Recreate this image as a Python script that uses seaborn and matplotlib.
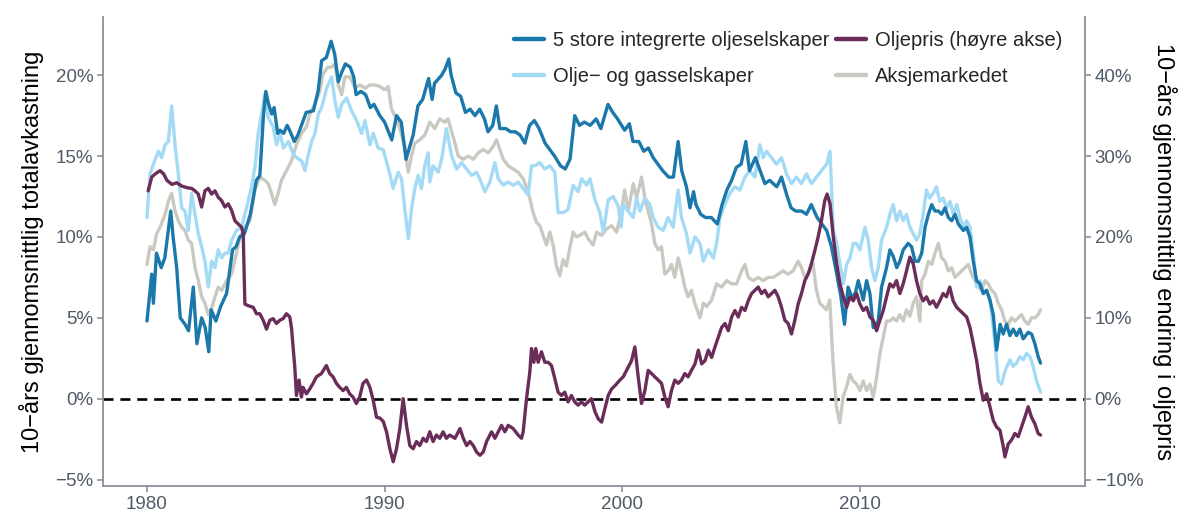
import matplotlib
matplotlib.use("Agg")
import matplotlib.pyplot as plt
import seaborn as sns
import pandas as pd

# ---------------- data ----------------
store5_year = [1980.0, 1980.2, 1980.27, 1980.4, 1980.6, 1980.75, 1981.0, 1981.1, 1981.25, 1981.4, 1981.6, 1981.75,
               1981.95, 1982.1, 1982.3, 1982.45, 1982.6, 1982.7, 1982.9, 1983.1, 1983.35, 1983.6, 1983.75, 1983.9,
               1984.1, 1984.35, 1984.6, 1984.75, 1984.9, 1985.0, 1985.12, 1985.25, 1985.35, 1985.5, 1985.6, 1985.75,
               1985.9, 1986.0, 1986.2, 1986.35, 1986.7, 1987.0, 1987.2, 1987.35, 1987.55, 1987.75, 1987.9, 1988.05,
               1988.2, 1988.35, 1988.55, 1988.7, 1988.8, 1989.0, 1989.2, 1989.4, 1989.55, 1989.8, 1990.0, 1990.3,
               1990.5, 1990.7, 1990.9, 1991.2, 1991.4, 1991.6, 1991.85, 1992.0, 1992.1, 1992.4, 1992.55, 1992.7,
               1992.8, 1993.0, 1993.2, 1993.4, 1993.6, 1993.8, 1994.0, 1994.2, 1994.35, 1994.55, 1994.7, 1994.85,
               1995.1, 1995.3, 1995.5, 1995.7, 1995.9, 1996.1, 1996.3, 1996.5, 1996.75, 1996.95, 1997.15, 1997.4,
               1997.6, 1997.8, 1998.0, 1998.2, 1998.4, 1998.65, 1998.9, 1999.1, 1999.4, 1999.6, 1999.8, 2000.1,
               2000.3, 2000.45, 2000.7, 2000.9, 2001.1, 2001.3, 2001.5, 2001.7, 2001.95, 2002.15, 2002.35, 2002.5,
               2002.7, 2002.85, 2003.0, 2003.1, 2003.3, 2003.5, 2003.75, 2004.0, 2004.2, 2004.4, 2004.6, 2004.8,
               2005.0, 2005.2, 2005.35, 2005.6, 2005.8, 2006.0, 2006.2, 2006.5, 2006.7, 2006.9, 2007.1, 2007.3,
               2007.55, 2007.75, 2007.95, 2008.2, 2008.4, 2008.6, 2008.8, 2009.0, 2009.2, 2009.35, 2009.5, 2009.65,
               2009.8, 2009.93, 2010.14, 2010.28, 2010.42, 2010.56, 2010.77, 2010.91, 2011.12, 2011.26, 2011.4,
               2011.55, 2011.68, 2011.82, 2012.03, 2012.17, 2012.32, 2012.46, 2012.6, 2012.74, 2012.88, 2013.02,
               2013.16, 2013.3, 2013.44, 2013.58, 2013.72, 2013.86, 2014.0, 2014.14, 2014.35, 2014.49, 2014.63,
               2014.77, 2014.91, 2015.05, 2015.19, 2015.33, 2015.47, 2015.61, 2015.75, 2015.9, 2016.03, 2016.17,
               2016.31, 2016.45, 2016.59, 2016.73, 2016.87, 2017.08, 2017.22, 2017.36, 2017.5, 2017.6]
store5_pct = [4.8, 7.7, 5.9, 9.0, 8.1, 8.7, 11.6, 10.0, 8.1, 5.0, 4.6, 4.2,
              6.9, 3.4, 5.0, 4.4, 2.9, 5.5, 4.8, 5.7, 6.5, 9.2, 9.4, 10.0,
              10.2, 11.4, 13.5, 13.8, 17.5, 19.0, 18.2, 17.6, 18.0, 16.4, 16.6, 16.4,
              16.9, 16.6, 15.9, 16.3, 17.7, 17.8, 19.0, 20.9, 21.1, 22.1, 21.3, 19.6,
              20.2, 20.7, 20.5, 19.9, 18.8, 19.0, 18.8, 18.0, 18.2, 17.5, 17.1, 16.0,
              17.5, 17.1, 14.8, 16.3, 18.1, 18.5, 19.8, 18.5, 19.5, 20.0, 20.4, 21.0,
              20.0, 18.9, 18.7, 17.7, 17.9, 17.5, 17.9, 17.3, 16.5, 16.9, 18.1, 16.7,
              16.7, 16.5, 16.5, 16.3, 15.8, 16.9, 17.2, 16.7, 15.8, 15.4, 15.0, 14.4,
              14.2, 14.8, 17.5, 16.9, 17.1, 16.9, 17.3, 16.7, 18.2, 17.7, 17.3, 16.6,
              17.0, 15.9, 15.9, 15.3, 15.5, 14.9, 14.5, 14.1, 13.7, 13.7, 15.9, 14.1,
              13.1, 11.8, 12.8, 12.0, 11.4, 11.2, 11.2, 10.8, 12.0, 12.9, 13.5, 14.3,
              14.5, 15.9, 14.1, 14.9, 14.1, 13.3, 13.5, 13.1, 13.7, 12.7, 11.8, 11.6,
              11.6, 11.4, 12.0, 11.2, 10.8, 10.4, 9.4, 7.9, 6.3, 4.6, 6.9, 6.3,
              6.5, 7.3, 6.1, 7.3, 6.5, 4.4, 4.8, 6.9, 8.1, 9.2, 8.8,
              8.1, 8.5, 9.2, 9.6, 9.4, 8.5, 8.5, 9.0, 10.6, 11.4, 12.0,
              11.6, 11.6, 11.4, 11.8, 11.2, 11.0, 11.4, 10.8, 10.4, 10.6, 10.0,
              8.5, 7.3, 7.1, 6.5, 6.7, 6.1, 5.2, 3.0, 4.6, 4.0, 4.6,
              3.9, 4.3, 3.9, 4.3, 3.7, 4.1, 4.0, 3.4, 2.6, 2.2]

olje_year = [1980.0, 1980.13, 1980.27, 1980.48, 1980.62, 1980.76, 1980.9, 1981.04, 1981.18, 1981.32, 1981.46, 1981.6,
             1981.74, 1981.88, 1982.02, 1982.16, 1982.3, 1982.44, 1982.58, 1982.72, 1982.86, 1983.0, 1983.14, 1983.28,
             1983.42, 1983.56, 1983.77, 1983.98, 1984.19, 1984.4, 1984.54, 1984.68, 1984.82, 1984.96, 1985.1, 1985.31,
             1985.45, 1985.6, 1985.74, 1985.95, 1986.16, 1986.3, 1986.51, 1986.65, 1986.79, 1986.93, 1987.07, 1987.21,
             1987.35, 1987.56, 1987.77, 1987.91, 1988.05, 1988.19, 1988.4, 1988.61, 1988.82, 1989.03, 1989.17, 1989.38,
             1989.52, 1989.73, 1989.94, 1990.2, 1990.36, 1990.57, 1990.71, 1990.85, 1991.0, 1991.13, 1991.27, 1991.41,
             1991.55, 1991.69, 1991.83, 1991.9, 1992.04, 1992.25, 1992.4, 1992.6, 1992.82, 1993.03, 1993.24, 1993.45,
             1993.66, 1993.87, 1994.0, 1994.22, 1994.43, 1994.64, 1994.78, 1994.99, 1995.2, 1995.41, 1995.62, 1995.83,
             1996.04, 1996.18, 1996.32, 1996.53, 1996.74, 1996.95, 1997.16, 1997.3, 1997.51, 1997.72, 1997.93, 1998.14,
             1998.29, 1998.5, 1998.64, 1998.85, 1999.06, 1999.2, 1999.41, 1999.62, 1999.83, 1999.95, 2000.04, 2000.25,
             2000.46, 2000.6, 2000.74, 2000.95, 2001.16, 2001.3, 2001.51, 2001.72, 2001.93, 2002.14, 2002.35, 2002.49,
             2002.7, 2002.85, 2003.06, 2003.27, 2003.41, 2003.62, 2003.83, 2003.97, 2004.11, 2004.32, 2004.53, 2004.74,
             2004.95, 2005.16, 2005.37, 2005.58, 2005.79, 2005.93, 2006.07, 2006.28, 2006.49, 2006.7, 2006.91, 2007.12,
             2007.33, 2007.54, 2007.75, 2007.96, 2008.17, 2008.38, 2008.6, 2008.74, 2008.88, 2009.02, 2009.16, 2009.3,
             2009.44, 2009.58, 2009.72, 2009.86, 2010.0, 2010.21, 2010.35, 2010.49, 2010.63, 2010.77, 2010.91, 2011.12,
             2011.26, 2011.4, 2011.54, 2011.68, 2011.82, 2011.96, 2012.1, 2012.24, 2012.38, 2012.52, 2012.66, 2012.8,
             2012.94, 2013.08, 2013.22, 2013.36, 2013.5, 2013.65, 2013.79, 2013.93, 2014.07, 2014.21, 2014.35, 2014.49,
             2014.63, 2014.77, 2014.91, 2015.05, 2015.19, 2015.33, 2015.47, 2015.61, 2015.75, 2015.82, 2015.96, 2016.1,
             2016.31, 2016.45, 2016.59, 2016.73, 2016.87, 2017.01, 2017.15, 2017.29, 2017.43, 2017.6]
olje_pct = [11.2, 13.9, 14.5, 15.3, 14.9, 15.7, 15.9, 18.1, 15.7, 13.9, 11.8, 11.6,
            10.4, 12.7, 11.4, 10.2, 9.4, 8.5, 6.9, 8.5, 8.1, 9.2, 8.7, 9.0,
            9.0, 9.8, 10.4, 10.6, 11.8, 13.1, 14.3, 16.4, 17.6, 18.8, 17.4, 16.8,
            15.7, 16.4, 15.5, 15.9, 15.1, 14.9, 14.7, 14.1, 15.1, 15.9, 16.4, 17.6,
            18.0, 19.2, 19.9, 18.4, 17.4, 18.2, 18.6, 17.8, 17.2, 16.4, 17.2, 15.7,
            16.4, 15.5, 15.4, 14.0, 13.0, 14.0, 13.6, 11.7, 9.9, 11.7, 13.0, 13.8,
            13.0, 14.4, 15.2, 13.4, 14.4, 14.0, 14.8, 16.7, 15.0, 14.2, 14.6, 14.2,
            13.8, 14.0, 13.6, 12.8, 13.4, 14.6, 13.6, 13.2, 13.4, 13.2, 13.4, 13.0,
            12.6, 14.4, 14.4, 14.6, 14.2, 14.4, 14.0, 11.5, 11.5, 11.7, 13.2, 12.8,
            13.6, 13.2, 13.6, 12.3, 11.5, 10.3, 12.3, 12.5, 11.9, 10.6, 12.0, 11.6,
            11.2, 12.4, 11.6, 12.4, 12.0, 11.2, 10.6, 10.4, 11.2, 10.6, 12.9, 11.2,
            10.2, 9.0, 10.0, 9.6, 8.5, 9.2, 8.7, 9.6, 11.2, 12.0, 12.7, 13.1,
            12.9, 13.7, 14.1, 13.7, 15.7, 14.9, 15.3, 14.9, 14.5, 14.9, 13.9, 13.3,
            13.7, 13.3, 13.9, 13.3, 13.7, 14.1, 14.5, 15.3, 10.4, 9.6, 8.3, 7.1,
            8.3, 8.7, 9.6, 9.6, 9.2, 10.6, 9.8, 8.1, 7.3, 8.1, 9.8, 10.6,
            11.4, 12.0, 11.0, 11.6, 11.0, 11.4, 10.6, 10.2, 9.8, 10.2, 11.4, 12.9,
            12.4, 12.7, 13.1, 12.2, 12.4, 11.8, 12.2, 11.4, 12.0, 11.2, 10.6, 11.0,
            10.6, 9.0, 6.9, 7.3, 6.5, 6.7, 6.1, 4.4, 2.4, 1.1, 0.9, 1.7,
            2.4, 2.0, 2.2, 2.6, 2.4, 2.8, 2.6, 2.0, 1.1, 0.4]

aksje_year = [1980.0, 1980.13, 1980.27, 1980.41, 1980.55, 1980.76, 1980.9, 1981.04, 1981.18, 1981.32, 1981.46, 1981.6,
              1981.74, 1981.88, 1982.02, 1982.16, 1982.3, 1982.44, 1982.58, 1982.72, 1982.86, 1983.0, 1983.14, 1983.35,
              1983.56, 1983.77, 1983.91, 1984.12, 1984.33, 1984.54, 1984.75, 1984.96, 1985.1, 1985.24, 1985.38, 1985.52,
              1985.66, 1985.87, 1986.08, 1986.29, 1986.5, 1986.71, 1986.85, 1987.06, 1987.27, 1987.41, 1987.62, 1987.76,
              1987.91, 1988.05, 1988.19, 1988.33, 1988.54, 1988.75, 1988.96, 1989.17, 1989.38, 1989.59, 1989.8, 1990.01,
              1990.15, 1990.29, 1990.5, 1990.64, 1990.85, 1990.99, 1991.13, 1991.27, 1991.48, 1991.69, 1991.9, 1992.11,
              1992.32, 1992.53, 1992.67, 1992.82, 1992.96, 1993.1, 1993.31, 1993.52, 1993.73, 1993.94, 1994.15, 1994.36,
              1994.57, 1994.71, 1994.85, 1994.99, 1995.2, 1995.41, 1995.62, 1995.83, 1996.04, 1996.25, 1996.39, 1996.53,
              1996.67, 1996.81, 1996.95, 1997.09, 1997.23, 1997.37, 1997.51, 1997.65, 1997.79, 1997.93, 1998.07, 1998.21,
              1998.42, 1998.56, 1998.77, 1998.92, 1999.13, 1999.34, 1999.55, 1999.76, 1999.97, 2000.1, 2000.25, 2000.46,
              2000.6, 2000.81, 2000.95, 2001.09, 2001.23, 2001.37, 2001.51, 2001.65, 2001.79, 2001.93, 2002.07, 2002.21,
              2002.35, 2002.49, 2002.63, 2002.77, 2002.91, 2003.05, 2003.27, 2003.41, 2003.55, 2003.76, 2003.97, 2004.18,
              2004.39, 2004.6, 2004.81, 2005.02, 2005.16, 2005.3, 2005.51, 2005.72, 2005.93, 2006.14, 2006.35, 2006.56,
              2006.77, 2006.98, 2007.19, 2007.4, 2007.54, 2007.68, 2007.89, 2008.03, 2008.17, 2008.31, 2008.45, 2008.59,
              2008.73, 2008.87, 2009.01, 2009.15, 2009.29, 2009.43, 2009.58, 2009.72, 2009.86, 2010.0, 2010.14, 2010.28,
              2010.42, 2010.56, 2010.7, 2010.84, 2010.98, 2011.12, 2011.26, 2011.4, 2011.54, 2011.68, 2011.82, 2011.96,
              2012.1, 2012.24, 2012.38, 2012.52, 2012.6, 2012.74, 2012.88, 2013.02, 2013.16, 2013.3, 2013.44, 2013.58,
              2013.72, 2013.86, 2014.0, 2014.14, 2014.28, 2014.42, 2014.56, 2014.7, 2014.84, 2014.98, 2015.12, 2015.26,
              2015.4, 2015.54, 2015.68, 2015.82, 2015.96, 2016.1, 2016.24, 2016.38, 2016.52, 2016.66, 2016.8, 2016.94,
              2017.08, 2017.22, 2017.36, 2017.5, 2017.6]
aksje_pct = [8.3, 9.4, 9.2, 10.2, 10.6, 11.4, 12.2, 12.7, 11.6, 11.0, 10.6, 10.4,
             9.8, 9.6, 8.1, 7.3, 6.3, 5.9, 5.2, 5.6, 6.3, 6.9, 6.7, 7.3,
             7.7, 9.0, 10.0, 10.6, 11.0, 12.9, 13.7, 13.5, 13.3, 12.7, 12.0, 12.7,
             13.5, 14.1, 14.7, 15.7, 16.4, 16.8, 17.6, 18.2, 19.0, 20.1, 20.5, 20.5,
             20.7, 19.4, 18.8, 19.9, 19.9, 19.2, 19.4, 19.2, 19.4, 19.4, 19.3, 19.1,
             19.3, 17.9, 17.3, 16.7, 15.6, 14.0, 15.0, 15.8, 16.0, 16.3, 17.1, 16.7,
             17.3, 17.1, 17.3, 16.5, 15.8, 15.0, 14.8, 15.0, 14.8, 15.2, 15.4, 15.2,
             15.6, 16.0, 15.4, 14.8, 14.4, 14.2, 14.0, 13.6, 12.8, 11.5, 10.9, 10.7,
             10.1, 9.5, 10.3, 9.5, 8.2, 7.6, 8.6, 8.2, 9.3, 10.3, 10.0, 10.1,
             10.3, 9.9, 9.5, 10.3, 10.1, 10.5, 10.7, 10.3, 11.6, 12.9, 11.6, 13.3,
             12.4, 13.7, 12.4, 11.6, 10.8, 9.6, 9.2, 9.4, 7.7, 7.9, 8.3, 7.5,
             8.7, 7.9, 6.9, 6.3, 6.7, 5.9, 5.0, 5.9, 5.7, 6.1, 7.1, 6.9,
             7.3, 7.1, 7.1, 7.9, 8.3, 7.5, 7.3, 7.5, 7.3, 7.5, 7.5, 7.7,
             7.9, 7.7, 7.9, 8.5, 8.1, 7.5, 7.9, 8.3, 6.7, 5.9, 5.7, 5.5,
             6.1, 2.2, -0.5, -1.5, 0.1, 0.7, 1.5, 1.1, 0.9, 0.5, 1.1, 0.5,
             0.9, 0.1, 1.3, 2.8, 3.8, 4.8, 4.8, 5.0, 4.8, 5.2, 4.8, 5.5,
             5.1, 5.9, 6.3, 4.8, 7.3, 7.7, 8.5, 8.3, 9.0, 9.6, 8.7, 8.5,
             7.9, 8.1, 7.5, 7.7, 7.9, 8.1, 8.3, 7.7, 7.3, 6.9, 6.7, 7.3,
             7.1, 6.7, 6.5, 5.9, 5.5, 4.8, 4.6, 5.0, 4.8, 5.0, 5.2, 4.8,
             4.6, 5.0, 5.0, 5.2, 5.5]

oil_year = [1980.05, 1980.2, 1980.35, 1980.55, 1980.7, 1980.84, 1981.05, 1981.25, 1981.46, 1981.67, 1981.88, 1982.02,
            1982.16, 1982.3, 1982.44, 1982.58, 1982.72, 1982.86, 1983.0, 1983.14, 1983.28, 1983.42, 1983.56, 1983.7,
            1983.84, 1983.98, 1984.05, 1984.12, 1984.26, 1984.47, 1984.61, 1984.75, 1984.89, 1985.03, 1985.17, 1985.31,
            1985.45, 1985.59, 1985.73, 1985.87, 1986.01, 1986.08, 1986.22, 1986.29, 1986.4, 1986.5, 1986.57, 1986.71,
            1986.85, 1986.99, 1987.13, 1987.34, 1987.55, 1987.69, 1987.83, 1987.97, 1988.11, 1988.25, 1988.39, 1988.53,
            1988.67, 1988.81, 1988.95, 1989.09, 1989.24, 1989.38, 1989.52, 1989.66, 1989.8, 1989.94, 1990.08, 1990.22,
            1990.36, 1990.5, 1990.64, 1990.78, 1990.92, 1991.06, 1991.2, 1991.34, 1991.48, 1991.62, 1991.76, 1991.9,
            1992.04, 1992.18, 1992.32, 1992.46, 1992.6, 1992.74, 1992.96, 1993.17, 1993.31, 1993.45, 1993.59, 1993.73,
            1993.87, 1994.01, 1994.15, 1994.29, 1994.5, 1994.64, 1994.78, 1994.92, 1995.06, 1995.2, 1995.41, 1995.62,
            1995.76, 1995.83, 1995.97, 1996.11, 1996.18, 1996.28, 1996.36, 1996.46, 1996.6, 1996.74, 1996.88, 1997.02,
            1997.16, 1997.3, 1997.44, 1997.58, 1997.72, 1997.86, 1998.0, 1998.14, 1998.28, 1998.42, 1998.56, 1998.7,
            1998.85, 1998.99, 1999.13, 1999.27, 1999.41, 1999.55, 1999.69, 1999.9, 2000.04, 2000.18, 2000.39, 2000.53,
            2000.67, 2000.81, 2000.95, 2001.09, 2001.23, 2001.37, 2001.51, 2001.65, 2001.79, 2001.93, 2002.07, 2002.21,
            2002.35, 2002.49, 2002.63, 2002.77, 2002.91, 2003.06, 2003.2, 2003.34, 2003.48, 2003.62, 2003.76, 2003.9,
            2004.04, 2004.18, 2004.32, 2004.46, 2004.6, 2004.74, 2004.88, 2005.02, 2005.16, 2005.3, 2005.44, 2005.58,
            2005.72, 2005.86, 2006.0, 2006.14, 2006.28, 2006.42, 2006.56, 2006.7, 2006.84, 2006.98, 2007.12, 2007.26,
            2007.4, 2007.54, 2007.68, 2007.82, 2007.96, 2008.1, 2008.24, 2008.38, 2008.52, 2008.62, 2008.74, 2008.88,
            2009.02, 2009.16, 2009.3, 2009.44, 2009.58, 2009.72, 2009.86, 2010.0, 2010.14, 2010.28, 2010.42, 2010.56,
            2010.7, 2010.84, 2010.98, 2011.12, 2011.26, 2011.4, 2011.54, 2011.68, 2011.82, 2011.96, 2012.1, 2012.24,
            2012.38, 2012.52, 2012.66, 2012.8, 2012.94, 2013.08, 2013.22, 2013.36, 2013.5, 2013.64, 2013.78, 2013.92,
            2014.07, 2014.21, 2014.35, 2014.49, 2014.63, 2014.77, 2014.91, 2015.05, 2015.19, 2015.33, 2015.47, 2015.61,
            2015.75, 2015.89, 2016.03, 2016.1, 2016.24, 2016.38, 2016.52, 2016.66, 2016.8, 2016.94, 2017.08, 2017.22,
            2017.36, 2017.5, 2017.6]
oil_pct = [25.7, 27.4, 27.8, 28.2, 27.8, 27.0, 26.5, 26.7, 26.3, 26.1, 26.0, 25.7,
           25.3, 23.7, 25.7, 26.0, 25.3, 25.7, 24.9, 24.5, 23.7, 24.1, 23.3, 22.0,
           21.6, 21.2, 20.4, 11.7, 11.5, 11.3, 10.5, 10.5, 9.7, 8.6, 9.7, 9.9,
           9.3, 9.7, 9.9, 10.5, 10.1, 8.8, 3.9, 0.4, 2.3, 0.2, 1.4, 0.6,
           1.2, 1.9, 2.7, 3.1, 4.1, 3.1, 2.7, 1.9, 1.4, 1.0, 1.4, 0.6,
           0.2, -0.6, 0.2, 1.9, 2.3, 1.4, -0.2, -2.3, -2.4, -2.8, -4.1, -6.2,
           -7.8, -6.2, -3.7, 0.0, -3.3, -5.8, -6.2, -5.3, -5.8, -4.9, -5.3, -4.1,
           -5.3, -4.5, -4.9, -4.1, -4.9, -4.5, -4.9, -3.7, -4.9, -5.8, -5.3, -5.8,
           -6.6, -7.0, -6.6, -5.3, -4.1, -4.9, -4.1, -3.3, -4.1, -3.3, -3.7, -4.5,
           -4.9, -4.1, 0.0, 3.3, 6.2, 4.5, 6.2, 4.5, 5.8, 4.5, 4.5, 4.1,
           2.5, 0.8, 0.4, 0.8, -0.4, 0.4, -0.4, -0.8, -0.4, -0.8, -0.4, 0.0,
           -1.6, -2.5, -2.9, -1.2, 0.4, 1.2, 1.6, 2.3, 2.7, 3.5, 4.7, 6.4,
           2.7, -0.6, 1.0, 3.5, 3.1, 2.7, 2.3, 1.9, 0.2, -1.0, 1.0, 2.3,
           1.9, 2.3, 3.1, 2.7, 3.5, 4.3, 6.0, 4.3, 4.7, 6.0, 5.1, 6.4,
           7.6, 8.8, 9.3, 8.4, 10.1, 10.9, 10.1, 11.3, 10.9, 12.1, 13.0, 13.4,
           13.8, 13.0, 13.4, 12.6, 13.0, 13.4, 12.6, 11.3, 9.7, 9.3, 8.0, 9.7,
           11.7, 13.0, 14.6, 15.4, 16.7, 18.3, 20.0, 22.0, 24.5, 25.3, 24.1, 20.0,
           16.7, 14.2, 12.6, 11.3, 12.6, 12.1, 13.0, 11.7, 10.9, 11.3, 10.1, 9.7,
           8.4, 9.7, 10.9, 12.6, 14.2, 13.8, 14.6, 13.0, 14.2, 15.8, 17.5, 16.7,
           14.6, 13.0, 12.1, 12.6, 11.7, 12.1, 11.3, 12.1, 13.0, 12.6, 13.8, 12.1,
           11.3, 10.9, 10.5, 10.1, 8.8, 6.8, 4.7, 1.9, -0.2, 0.6, -1.0, -2.7,
           -3.5, -3.9, -5.9, -7.2, -5.6, -5.1, -4.3, -4.7, -3.5, -2.3, -1.0, -2.3,
           -3.1, -4.3, -4.5]

series_names = ["5 store integrerte oljeselskaper", "Olje\u2212 og gasselskaper",
                "Oljepris (h\u00f8yre akse)", "Aksjemarkedet"]
x_ticks = [1980, 1990, 2000, 2010]
left_ticks = [-5, 0, 5, 10, 15, 20]
left_tick_labels = ["\u22125%", "0%", "5%", "10%", "15%", "20%"]
right_ticks = [-10, 0, 10, 20, 30, 40]
right_tick_labels = ["\u221210%", "0%", "10%", "20%", "30%", "40%"]
left_title = "10\u2212\u00e5rs gjennomsnittlig totalavkastning"
right_title = "10\u2212\u00e5rs gjennomsnittlig endring i oljepris"

# ---------------- style ----------------
sns.set_theme(style="white")
plt.rcParams["font.family"] = ["Liberation Sans", "DejaVu Sans"]

C_DARK = "#1a78aa"
C_LIGHT = "#a3daf5"
C_OIL = "#6a2c58"
C_GRAY = "#c9c9c1"
SPINE = "#8c9099"
TICKLAB = "#4f5a68"
LW = 2.4

fig = plt.figure(figsize=(11.81, 5.15), dpi=100)
ax = fig.add_axes([103 / 1181, 1 - 486 / 515, 982 / 1181, (486 - 17) / 515])

df_aksje = pd.DataFrame({"year": aksje_year, "pct": aksje_pct})
df_olje = pd.DataFrame({"year": olje_year, "pct": olje_pct})
df_store = pd.DataFrame({"year": store5_year, "pct": store5_pct})
df_oil = pd.DataFrame({"year": oil_year, "pct": oil_pct})

sns.lineplot(data=df_aksje, x="year", y="pct", ax=ax, color=C_GRAY, lw=LW, sort=False, estimator=None)
sns.lineplot(data=df_olje, x="year", y="pct", ax=ax, color=C_LIGHT, lw=LW, sort=False, estimator=None)
sns.lineplot(data=df_store, x="year", y="pct", ax=ax, color=C_DARK, lw=LW, sort=False, estimator=None)
ax.axhline(0, color="black", lw=1.9, ls=(0, (3.8, 2.6)), zorder=1)

ax2 = ax.twinx()
sns.lineplot(data=df_oil, x="year", y="pct", ax=ax2, color=C_OIL, lw=LW, sort=False, estimator=None)

left_lim = (-5.4, 23.6)
ax.set_ylim(*left_lim)
ax2.set_ylim(left_lim[0] * 2, left_lim[1] * 2)
ax.set_xlim(1978.15, 2019.47)

ax.set_xticks(x_ticks)
ax.set_xticklabels([str(v) for v in x_ticks])
ax.set_yticks(left_ticks)
ax.set_yticklabels(left_tick_labels)
ax2.set_yticks(right_ticks)
ax2.set_yticklabels(right_tick_labels)

for a in (ax, ax2):
    a.set_xlabel("")
    a.spines["top"].set_visible(False)
    for s in ("left", "bottom", "right"):
        a.spines[s].set_color(SPINE)
        a.spines[s].set_linewidth(1.3)
ax.spines["right"].set_visible(False)
ax2.spines["left"].set_visible(False)
ax2.spines["bottom"].set_visible(False)

ax.tick_params(axis="both", which="both", direction="out", length=4, width=1.2, color=SPINE,
               labelcolor=TICKLAB, labelsize=13.5, pad=3, left=True, bottom=True)
ax2.tick_params(axis="y", direction="out", length=4, width=1.2, color=SPINE,
                labelcolor=TICKLAB, labelsize=13.5, pad=3, right=True)

ax.set_ylabel(left_title, fontsize=17, color="black", labelpad=8)
ax2.set_ylabel(right_title, fontsize=17, color="black", rotation=-90, labelpad=24)

# legend
h_store = plt.Line2D([], [], color=C_DARK, lw=3.2)
h_olje = plt.Line2D([], [], color=C_LIGHT, lw=3.2)
h_oil = plt.Line2D([], [], color=C_OIL, lw=3.2)
h_aksje = plt.Line2D([], [], color=C_GRAY, lw=3.2)
fig.legend([h_store, h_olje, h_oil, h_aksje], series_names, ncol=2, frameon=False,
           loc="upper left", bbox_to_anchor=(514 / 1181, 1 - 31 / 515), fontsize=14.5,
           handlelength=1.5, handletextpad=0.45, columnspacing=0.3, labelspacing=0.85,
           borderaxespad=0, borderpad=0)

fig.savefig("out.png", dpi=100, facecolor="white")
